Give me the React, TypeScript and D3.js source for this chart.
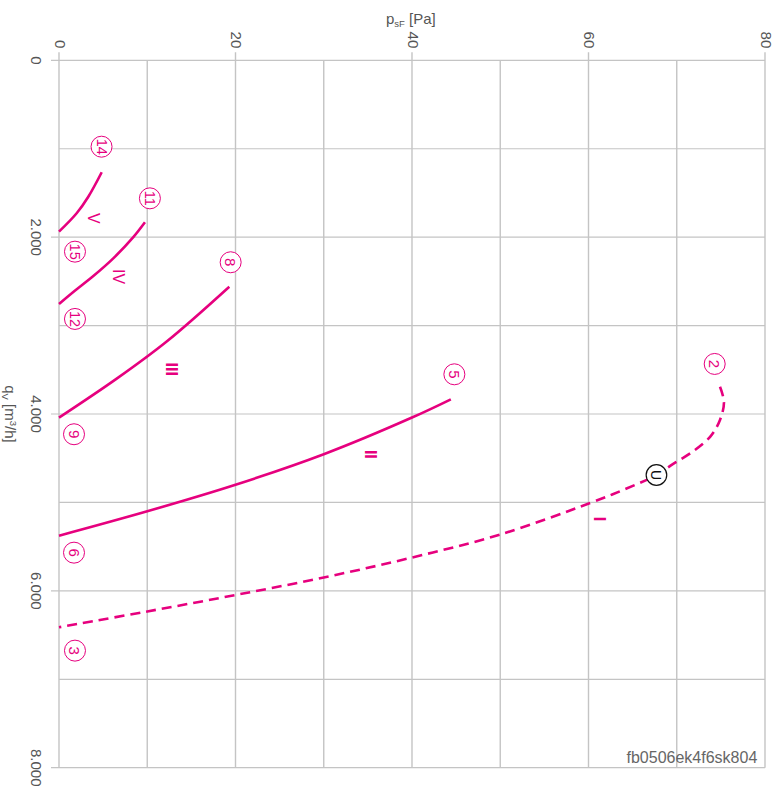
import React from "react";
import * as d3 from "d3";

// ---- data (q in m³/h, p in Pa) ----
const pTicks = [0, 20, 40, 60, 80];
const pGrid = [0, 10, 20, 30, 40, 50, 60, 70, 80];
const qTicks = [0, 2000, 4000, 6000, 8000];
const qGrid = [0, 1000, 2000, 3000, 4000, 5000, 6000, 7000, 8000];

// curve points: [q, p]
const curveI: [number, number][] = [
  [3691, 74.9], [3864, 75.35], [4068, 74.9], [4256, 73.8], [4426, 71.8],
  [4565, 69.6], [4690, 67.7], [4860, 63.9], [5006, 60.2], [5363, 50],
  [5623, 40], [5849, 30], [6047, 20], [6233, 10], [6412, 0],
];
const curveII: [number, number][] = [
  [3834, 44.4], [4040, 40], [4455, 30], [4800, 20], [5100, 10], [5376, 0],
];
const curveIII: [number, number][] = [
  [2560, 19.3], [3180, 12.2], [3600, 6.54], [4041, 0],
];
const curveIV: [number, number][] = [
  [1832, 9.74], [2000, 8.42], [2240, 6.15], [2440, 3.89], [2620, 1.62], [2756, 0],
];
const curveV: [number, number][] = [
  [1266, 4.84], [1543, 3.32], [1730, 2.0], [1938, 0],
];

const curves = [
  { name: "I", pts: curveI, dashed: true },
  { name: "II", pts: curveII, dashed: false },
  { name: "III", pts: curveIII, dashed: false },
  { name: "IV", pts: curveIV, dashed: false },
  { name: "V", pts: curveV, dashed: false },
];

const circledLabels = [
  { t: "14", q: 977, p: 4.82 },
  { t: "11", q: 1561, p: 10.3 },
  { t: "15", q: 2164, p: 1.81 },
  { t: "12", q: 2925, p: 1.81 },
  { t: "8", q: 2284, p: 19.45 },
  { t: "9", q: 4229, p: 1.7 },
  { t: "5", q: 3551, p: 44.8 },
  { t: "6", q: 5568, p: 1.7 },
  { t: "3", q: 6676, p: 1.81 },
  { t: "2", q: 3434, p: 74.3 },
];
const opPoint = { t: "U", q: 4690, p: 67.7 };

const romanLabels = [
  { t: "I", q: 5187, p: 61.2, bold: true },
  { t: "II", q: 4456, p: 35.35, bold: true },
  { t: "III", q: 3494, p: 12.77, bold: true },
  { t: "IV", q: 2447, p: 6.72, bold: false },
  { t: "V", q: 1787, p: 3.89, bold: false },
];

const W = 778;
const H = 797;
const MAGENTA = "#e6007e";
const GRID = "#c4c4c4";
const TEXT = "#555";
const FONT = "'Liberation Sans', Arial, sans-serif";

const deLocale = d3.formatLocale({ decimal: ",", thousands: ".", grouping: [3], currency: ["", ""] });
const fmtQ = deLocale.format(",");

export default function App() {
  const x = d3.scaleLinear().domain([0, 80]).range([59, 765]);
  const y = d3.scaleLinear().domain([0, 8000]).range([60.3, 767.7]);

  const line = d3
    .line<[number, number]>()
    .x((d) => x(d[1]))
    .y((d) => y(d[0]))
    .curve(d3.curveCatmullRom.alpha(0.5));

  const x0 = x.range()[0];
  const x1 = x.range()[1];
  const y0 = y.range()[0];
  const y1 = y.range()[1];

  return (
    <svg
      width={W}
      height={H}
      style={{ position: "absolute", left: 0, top: 0, background: "#fff" }}
      fontFamily={FONT}
    >
      {/* grid */}
      {qGrid.map((q) => (
        <line
          key={"hq" + q}
          x1={qTicks.includes(q) ? x0 - 8 : x0}
          x2={x1}
          y1={y(q)}
          y2={y(q)}
          stroke={GRID}
          strokeWidth={1.2}
        />
      ))}
      {pGrid.map((p) => (
        <line
          key={"vp" + p}
          x1={x(p)}
          x2={x(p)}
          y1={pTicks.includes(p) ? y0 - 8 : y0}
          y2={y1}
          stroke={GRID}
          strokeWidth={1.4}
        />
      ))}

      {/* top tick labels */}
      {pTicks.map((p) => (
        <text
          key={"tp" + p}
          transform={`translate(${x(p) + 1.3},${y0 - 12}) rotate(90)`}
          textAnchor="end"
          dominantBaseline="central"
          fontSize={15}
          fill={TEXT}
        >
          {p}
        </text>
      ))}
      {/* left tick labels */}
      {qTicks.map((q) => (
        <text
          key={"tq" + q}
          transform={`translate(${x0 - 22.3},${y(q)}) rotate(90)`}
          textAnchor="middle"
          dominantBaseline="central"
          fontSize={15}
          fill={TEXT}
        >
          {fmtQ(q)}
        </text>
      ))}

      {/* axis titles */}
      <text x={386} y={23.5} fontSize={15} fill={TEXT}>
        p<tspan fontSize={9.5} dy={3}>sF</tspan>
        <tspan dy={-3}> [Pa]</tspan>
      </text>
      <text
        transform={`translate(4.5,${y(4000)}) rotate(90)`}
        textAnchor="middle"
        fontSize={15}
        fill={TEXT}
      >
        q<tspan fontSize={9.5} dy={3}>V</tspan>
        <tspan dy={-3}> [m</tspan>
        <tspan fontSize={9.5} dy={-5}>3</tspan>
        <tspan dy={5}>/h]</tspan>
      </text>

      {/* curves */}
      {curves.map((c) => (
        <path
          key={c.name}
          d={line(c.pts) || ""}
          fill="none"
          stroke={MAGENTA}
          strokeWidth={2.6}
          strokeDasharray={c.dashed ? "10 6" : undefined}
        />
      ))}

      {/* roman numerals */}
      {romanLabels.map((r) => (
        <text
          key={"r" + r.t}
          transform={`translate(${x(r.p)},${y(r.q)}) rotate(90)`}
          textAnchor="middle"
          dominantBaseline="central"
          fontSize={16}
          fontWeight={r.bold ? "bold" : "normal"}
          fill={MAGENTA}
        >
          {r.t}
        </text>
      ))}

      {/* circled numbers */}
      {circledLabels.map((c) => (
        <g key={"c" + c.t} transform={`translate(${x(c.p)},${y(c.q)})`}>
          <circle r={10.5} fill="#fff" stroke={MAGENTA} strokeWidth={1} />
          <text
            transform="rotate(90)"
            textAnchor="middle"
            dominantBaseline="central"
            fontSize={c.t.length > 1 ? 14.5 : 15}
            fill={MAGENTA}
          >
            {c.t}
          </text>
        </g>
      ))}

      {/* operating point */}
      <g transform={`translate(${x(opPoint.p)},${y(opPoint.q)})`}>
        <circle r={10.3} fill="#fff" stroke="#111" strokeWidth={1.2} />
        <text
          transform="rotate(90)"
          textAnchor="middle"
          dominantBaseline="central"
          fontSize={14}
          fill="#111"
        >
          {opPoint.t}
        </text>
      </g>

      {/* watermark */}
      <text x={757.3} y={763.3} textAnchor="end" fontSize={16} fill="#666">
        fb0506ek4f6sk804
      </text>
    </svg>
  );
}
